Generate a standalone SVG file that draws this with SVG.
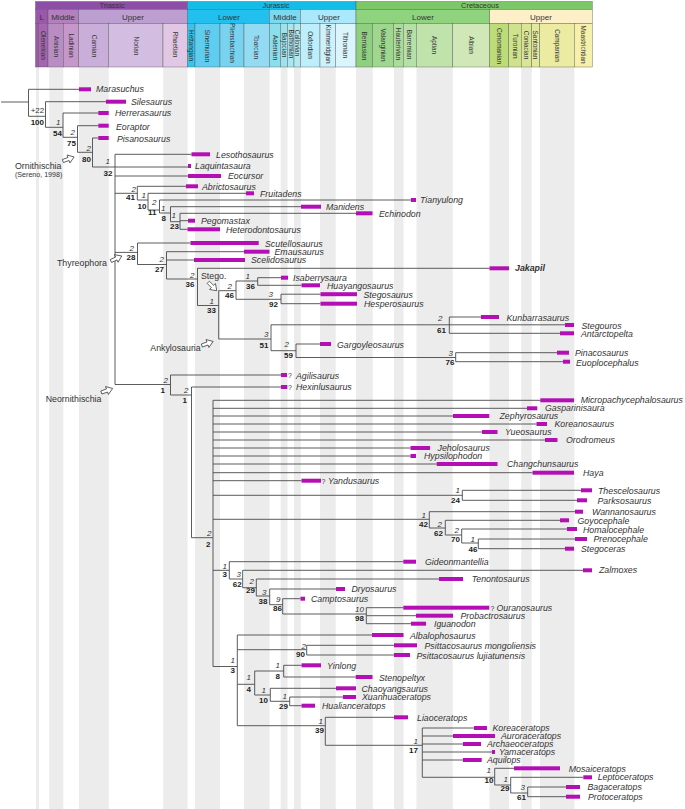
<svg xmlns="http://www.w3.org/2000/svg" xmlns:xlink="http://www.w3.org/1999/xlink" width="685" height="809" viewBox="0 0 685 809">
<style>
text{font-family:"Liberation Sans",Arial,sans-serif;fill:#333}
.t{font-size:8.8px;font-style:italic}
.b{fill:#b30fb5}
.u{font-size:8px;font-style:italic;text-anchor:end}
.d{font-size:8px;font-weight:bold;text-anchor:end;fill:#222}
.l{font-size:8.8px}
.q{font-size:7px}
.g{fill:#ececec}
.c{stroke:#555;stroke-width:.4}
.h1{font-size:7.4px;text-anchor:middle}
.h2{font-size:8px;text-anchor:middle}
.h3{font-size:6.4px;text-anchor:middle}
#conn{fill:none;stroke:#4a4a4a;stroke-width:.9}
.ar{fill:#fff;stroke:#333;stroke-width:.7}
</style>
<defs><polygon id="arrow" points="-6,-1.6 0,-1.6 0,-4.2 6,0 0,4.2 0,1.6 -6,1.6"/></defs>
<rect width="685" height="809" fill="#fff"/>
<g id="bands">
<rect class="g" x="36" y="67" width="3" height="742"/>
<rect class="g" x="49.3" y="67" width="14" height="742"/>
<rect class="g" x="79" y="67" width="29.7" height="742"/>
<rect class="g" x="163.3" y="67" width="24.2" height="742"/>
<rect class="g" x="195" y="67" width="25" height="742"/>
<rect class="g" x="244" y="67" width="25.5" height="742"/>
<rect class="g" x="280.7" y="67" width="6.8" height="742"/>
<rect class="g" x="294" y="67" width="6.8" height="742"/>
<rect class="g" x="320" y="67" width="15.7" height="742"/>
<rect class="g" x="356" y="67" width="16.7" height="742"/>
<rect class="g" x="394" y="67" width="9.5" height="742"/>
<rect class="g" x="416.5" y="67" width="36.2" height="742"/>
<rect class="g" x="489.5" y="67" width="19.5" height="742"/>
<rect class="g" x="521.3" y="67" width="10.4" height="742"/>
<rect class="g" x="540" y="67" width="34.3" height="742"/>
</g>
<g id="timescale">
<rect class="c" x="35.5" y="1.5" width="152" height="8" fill="#8c4fa5"/>
<rect class="c" x="187.5" y="1.5" width="168.5" height="8" fill="#14bde8"/>
<rect class="c" x="356" y="1.5" width="236.3" height="8" fill="#7cc768"/>
<rect class="c" x="35.5" y="9.5" width="12.5" height="14" fill="#9a58aa"/>
<rect class="c" x="48" y="9.5" width="30.7" height="14" fill="#b180bd"/>
<rect class="c" x="78.7" y="9.5" width="108.8" height="14" fill="#bc9fd0"/>
<rect class="c" x="187.5" y="9.5" width="82" height="14" fill="#22c0ee"/>
<rect class="c" x="269.5" y="9.5" width="31" height="14" fill="#7cd8ee"/>
<rect class="c" x="300.5" y="9.5" width="55.5" height="14" fill="#abe8fb"/>
<rect class="c" x="356" y="9.5" width="133.7" height="14" fill="#8fd37f"/>
<rect class="c" x="489.7" y="9.5" width="102.6" height="14" fill="#fdf0c8"/>
<rect class="c" x="35.5" y="23.5" width="3" height="43.5" fill="#9a58aa"/>
<rect class="c" x="38.5" y="23.5" width="9.5" height="43.5" fill="#a565b0"/>
<rect class="c" x="48" y="23.5" width="15.5" height="43.5" fill="#b98dc4"/>
<rect class="c" x="63.5" y="23.5" width="15.2" height="43.5" fill="#c597ca"/>
<rect class="c" x="78.7" y="23.5" width="29.8" height="43.5" fill="#c8aed9"/>
<rect class="c" x="108.5" y="23.5" width="54.5" height="43.5" fill="#d3bde1"/>
<rect class="c" x="163" y="23.5" width="24.5" height="43.5" fill="#e2c7e4"/>
<rect class="c" x="187.5" y="23.5" width="7.5" height="43.5" fill="#34c5ec"/>
<rect class="c" x="195" y="23.5" width="25" height="43.5" fill="#5fcdef"/>
<rect class="c" x="220" y="23.5" width="24" height="43.5" fill="#79d3f0"/>
<rect class="c" x="244" y="23.5" width="25.5" height="43.5" fill="#93dbf3"/>
<rect class="c" x="269.5" y="23.5" width="11" height="43.5" fill="#8bdeec"/>
<rect class="c" x="280.5" y="23.5" width="7" height="43.5" fill="#9ce3ee"/>
<rect class="c" x="287.5" y="23.5" width="6.5" height="43.5" fill="#a9e6ef"/>
<rect class="c" x="294" y="23.5" width="6.5" height="43.5" fill="#b5e9f0"/>
<rect class="c" x="300.5" y="23.5" width="19.5" height="43.5" fill="#bdeefc"/>
<rect class="c" x="320" y="23.5" width="15.5" height="43.5" fill="#cdf2fc"/>
<rect class="c" x="335.5" y="23.5" width="20.5" height="43.5" fill="#dbf5fd"/>
<rect class="c" x="356" y="23.5" width="16.5" height="43.5" fill="#8fcf80"/>
<rect class="c" x="372.5" y="23.5" width="21" height="43.5" fill="#9ed78e"/>
<rect class="c" x="393.5" y="23.5" width="9.8" height="43.5" fill="#aadc9a"/>
<rect class="c" x="403.3" y="23.5" width="13" height="43.5" fill="#b5e0a6"/>
<rect class="c" x="416.3" y="23.5" width="36.4" height="43.5" fill="#c0e3ac"/>
<rect class="c" x="452.7" y="23.5" width="37" height="43.5" fill="#d0e8b7"/>
<rect class="c" x="489.7" y="23.5" width="19" height="43.5" fill="#bcdc78"/>
<rect class="c" x="508.7" y="23.5" width="12.6" height="43.5" fill="#cfe28c"/>
<rect class="c" x="521.3" y="23.5" width="10.4" height="43.5" fill="#dae694"/>
<rect class="c" x="531.7" y="23.5" width="8" height="43.5" fill="#e2ea9c"/>
<rect class="c" x="539.7" y="23.5" width="34.6" height="43.5" fill="#ebeba2"/>
<rect class="c" x="574.3" y="23.5" width="18" height="43.5" fill="#f5f0aa"/>
<text class="h1" x="112" y="7.8">Triassic</text>
<text class="h1" x="276" y="7.8">Jurassic</text>
<text class="h1" x="480" y="7.8">Cretaceous</text>
<text class="h2" x="41.7" y="19.5">L</text>
<text class="h2" x="63" y="19.5">Middle</text>
<text class="h2" x="133" y="19.5">Upper</text>
<text class="h2" x="229" y="19.5">Lower</text>
<text class="h2" x="285" y="19.5">Middle</text>
<text class="h2" x="329" y="19.5">Upper</text>
<text class="h2" x="423" y="19.5">Lower</text>
<text class="h2" x="541" y="19.5">Upper</text>
<text class="h3" transform="translate(40.8,45.5) rotate(90)">Olenekian</text>
<text class="h3" transform="translate(53.5,46.5) rotate(90)">Anisian</text>
<text class="h3" transform="translate(69,45.5) rotate(90)">Ladinian</text>
<text class="h3" transform="translate(91.5,46) rotate(90)">Carnian</text>
<text class="h3" transform="translate(133.5,46) rotate(90)">Norian</text>
<text class="h3" transform="translate(173,44.5) rotate(90)">Rhaetian</text>
<text class="h3" transform="translate(189,45.5) rotate(90)">Hettangian</text>
<text class="h3" transform="translate(205,46) rotate(90)">Sinemurian</text>
<text class="h3" transform="translate(230,43) rotate(90)">Pliensbachian</text>
<text class="h3" transform="translate(254,47) rotate(90)">Toarcian</text>
<text class="h3" transform="translate(272.5,47.5) rotate(90)">Aalenian</text>
<text class="h3" transform="translate(281.8,45) rotate(90)">Bajocian</text>
<text class="h3" transform="translate(288.6,44) rotate(90)">Bathonian</text>
<text class="h3" transform="translate(295.2,43) rotate(90)">Callovian</text>
<text class="h3" transform="translate(308,45) rotate(90)">Oxfordian</text>
<text class="h3" transform="translate(325.5,44) rotate(90)">Kimmeridgian</text>
<text class="h3" transform="translate(343.3,45) rotate(90)">Tithonian</text>
<text class="h3" transform="translate(361.5,46) rotate(90)">Berriasian</text>
<text class="h3" transform="translate(380.5,45) rotate(90)">Valanginian</text>
<text class="h3" transform="translate(395.8,44) rotate(90)">Hauterivian</text>
<text class="h3" transform="translate(407,44.5) rotate(90)">Barremian</text>
<text class="h3" transform="translate(432,45) rotate(90)">Aptian</text>
<text class="h3" transform="translate(468.5,45) rotate(90)">Albian</text>
<text class="h3" transform="translate(496.5,46) rotate(90)">Cenomanian</text>
<text class="h3" transform="translate(512.5,46) rotate(90)">Turonian</text>
<text class="h3" transform="translate(523.8,45) rotate(90)">Coniacian</text>
<text class="h3" transform="translate(533.3,45) rotate(90)">Santonian</text>
<text class="h3" transform="translate(555,45.5) rotate(90)">Campanian</text>
<text class="h3" transform="translate(581,44.5) rotate(90)">Maastrichtian</text>
</g>
<g id="connectors"><path id="conn" d="M1 102H28.5M28.5 89.3V116.3M28.5 89.3H79M28.5 116.3H45.5M45.5 101.7V127.3M45.5 101.7H106M45.5 127.3H63M63 113V137.3M63 113H98.3M63 137.3H77.5M77.5 125.7V152.3M77.5 125.7H98.3M77.5 152.3H92.5M92.5 138V167M92.5 138H98.3M92.5 167H188M115 154.3V384.5M115 154.3H191.5M115 176H188M115 193.3H137.3M137.3 186.3V200M137.3 186.3H186M137.3 200H148M148 193.3V210M148 193.3H246M148 210H159.5M159.5 200V213M159.5 200H411M159.5 213H170.5M170.5 206.7V221.7M170.5 206.7H301M170.5 221.7H180M180 213.3V229.3M180 213.3H356M180 220.7H188M180 229.3H187.5M115 252.4H137.5M137.5 243V264.5M137.5 243H190.5M137.5 264.5H166.5M166.5 251.7V279M166.5 251.7H244M166.5 260H194M166.5 279H197.5M197.5 268V305.5M197.5 268.3H489.5M197.5 305.5H218.7M218.7 290.7V339M218.7 290.7H236M236 281V299.3M236 281H257.7M257.7 277.7V285.3M257.7 277.7H281M257.7 285.3H301.5M236 299.3H281M281 294.2V303.7M281 294.2H320.5M281 303.7H320.5M218.7 339H271M271 324.8V350.7M271 324.8H565M449.3 317V333.3M449.3 317H481M449.3 333.3H560M271 350.7H296M296 344V357.5M296 344H320M296 357.5H455.7M455.7 352.7V361.7M455.7 352.7H557M455.7 361.7H563M115 384.5H170.5M170.5 375V395M170.5 375H281M170.5 395H191.5M191.5 387V537.7M191.5 387H281M191.5 537.7H213M213 400.3V666.5M213 400.3H540.3M213 408.3H527M213 416H453M213 424H536.5M213 432H482M213 440H545M213 448H410.5M213 456H410.5M213 464H436.7M213 472.7H532.5M213 480.7H301.5M213 495.3H462.3M462.3 490.3V500.3M462.3 490.3H581M462.3 500.3H577M213 519.3H429.3M429.3 511.7V528M429.3 511.7H575M429.3 528H445.3M445.3 520.3V535M445.3 520.3H560M445.3 535H461.7M461.7 529V543M461.7 529H567M461.7 543H478.3M478.3 539V548.7M478.3 539H575M478.3 548.7H565M213 570.3H229.3M229.3 561.7V579M229.3 561.7H403.3M229.3 579H242.7M242.7 570.3V587.7M242.7 570.3H583M242.7 587.7H256.3M256.3 579V596M256.3 579H439M256.3 596H269.7M269.7 589V604.7M269.7 589H336M269.7 604.7H282.7M282.7 598.7V614M282.7 598.7H300.5M282.7 614H366.3M366.3 607.7V623.7M366.3 607.7H403.3M366.3 615.7H416M366.3 623.7H411M213 666.5H237.3M237.3 635V725.7M237.3 635H372M237.3 649.7H306.7M306.7 645.3V655M306.7 645.3H394M306.7 655H394M237.3 684.3H254.7M254.7 671V695M254.7 671H283.7M283.7 665.3V677M283.7 665.3H301.5M283.7 677H355.7M254.7 695H270.3M270.3 688.3V701.3M270.3 688.3H336M270.3 701.3H289.7M289.7 697V705.7M289.7 697H343M289.7 705.7H301.5M237.3 725.7H325.3M325.3 717.3V745.3M325.3 717.3H394M325.3 745.3H422.3M422.3 728V777.3M422.3 728H474M422.3 736H453M422.3 744H463M422.3 752H492M422.3 760H463M422.3 777.3H494.7M494.7 768.3V785M494.7 768.3H514M494.7 785H510.7M510.7 777.3V793M510.7 777.3H583M510.7 793H527.7M527.7 787V796.7M527.7 787H566M527.7 796.7H566"/></g>
<g id="support">
<text class="l" style="font-size:8px" x="30.7" y="112.7">+22</text><text class="d" x="44" y="125.3">100</text>
<text class="u" x="60.5" y="124.7">1</text><text class="d" x="62" y="136.3">54</text>
<text class="u" x="75" y="135">2</text><text class="d" x="76" y="146">75</text>
<text class="u" x="91" y="151">2</text><text class="d" x="91" y="162">80</text>
<text class="u" x="110" y="164">1</text><text class="d" x="112.5" y="176">32</text>
<text class="u" x="136" y="191.7">2</text><text class="d" x="135" y="200.3">41</text>
<text class="u" x="146" y="198">1</text><text class="d" x="146.5" y="209">10</text>
<text class="u" x="156.5" y="205">2</text><text class="d" x="156.5" y="215">11</text>
<text class="u" x="165.5" y="211">1</text><text class="d" x="166" y="220.7">8</text>
<text class="u" x="176" y="218">1</text><text class="d" x="179" y="229">23</text>
<text class="u" x="134" y="250.7">2</text><text class="d" x="135.5" y="260">28</text>
<text class="u" x="164" y="261.7">2</text><text class="d" x="164" y="271.7">27</text>
<text class="u" x="194.5" y="278">2</text><text class="d" x="194.5" y="286.7">36</text>
<text class="u" x="214" y="304">1</text><text class="d" x="216" y="312.7">33</text>
<text class="u" x="232" y="289">2</text><text class="d" x="234" y="298">46</text>
<text class="u" x="250" y="279">1</text><text class="d" x="255" y="289">36</text>
<text class="u" x="273" y="297.3">3</text><text class="d" x="278" y="307">92</text>
<text class="u" x="268.5" y="337">3</text><text class="d" x="268.5" y="348">51</text>
<text class="u" x="289" y="347.3">2</text><text class="d" x="293" y="358">59</text>
<text class="u" x="442.5" y="320.7">2</text><text class="d" x="446" y="333.3">61</text>
<text class="u" x="453" y="355.7">3</text><text class="d" x="454.5" y="365.3">76</text>
<text class="u" x="168" y="383">2</text><text class="d" x="165" y="392.7">1</text>
<text class="u" x="188.5" y="393.3">2</text><text class="d" x="187" y="403.3">1</text>
<text class="u" x="211.5" y="535.7">2</text><text class="d" x="210.5" y="546.7">2</text>
<text class="u" x="460" y="493.3">1</text><text class="d" x="460" y="503">24</text>
<text class="u" x="426" y="517.7">1</text><text class="d" x="428" y="526.7">42</text>
<text class="u" x="442" y="527">2</text><text class="d" x="443" y="535.7">62</text>
<text class="u" x="459" y="532.7">2</text><text class="d" x="460" y="542.3">70</text>
<text class="u" x="475" y="541.7">1</text><text class="d" x="477.5" y="551.7">46</text>
<text class="u" x="227" y="568.7">1</text><text class="d" x="227" y="577">3</text>
<text class="u" x="241" y="577.3">3</text><text class="d" x="241.7" y="586.7">62</text>
<text class="u" x="254" y="584">2</text><text class="d" x="255" y="593.3">29</text>
<text class="u" x="266.5" y="594.7">3</text><text class="d" x="267.5" y="604.3">38</text>
<text class="u" x="280.5" y="601.7">9</text><text class="d" x="282" y="610.7">86</text>
<text class="u" x="364" y="612.3">10</text><text class="d" x="364" y="620.7">98</text>
<text class="u" x="306" y="648.7">2</text><text class="d" x="305" y="657">90</text>
<text class="u" x="235" y="663.3">1</text><text class="d" x="235" y="673.3">3</text>
<text class="u" x="280" y="668.3">1</text><text class="d" x="280" y="678.7">8</text>
<text class="u" x="251" y="680">1</text><text class="d" x="251" y="692">4</text>
<text class="u" x="266" y="693.3">1</text><text class="d" x="268" y="702.7">10</text>
<text class="u" x="287" y="699.3">1</text><text class="d" x="288" y="709.3">29</text>
<text class="u" x="323" y="724">1</text><text class="d" x="324" y="733.3">39</text>
<text class="u" x="418" y="744">1</text><text class="d" x="418" y="752.7">17</text>
<text class="u" x="491" y="773">1</text><text class="d" x="493.5" y="783.3">10</text>
<text class="u" x="508" y="781.7">1</text><text class="d" x="509.5" y="791.3">29</text>
<text class="u" x="525" y="790.3">3</text><text class="d" x="526" y="800">61</text>
</g>
<g id="clades">
<text class="l" x="15" y="169">Ornithischia</text>
<text x="15" y="177.3" style="font-size:7.1px">(Sereno, 1998)</text>
<use href="#arrow" class="ar" transform="translate(68.5,159) rotate(-20)"/>
<text class="l" x="57" y="266">Thyreophora</text>
<use href="#arrow" class="ar" transform="translate(116.3,258.5) rotate(-25)"/>
<text class="l" x="201" y="279">Stego.</text>
<use href="#arrow" class="ar" transform="translate(212.5,286.5) rotate(45)"/>
<text class="l" x="150.3" y="350.7">Ankylosauria</text>
<use href="#arrow" class="ar" transform="translate(207.5,343.5) rotate(-20)"/>
<text class="l" x="45.7" y="402">Neornithischia</text>
<use href="#arrow" class="ar" transform="translate(107,390.5) rotate(-20)"/>
</g>
<g id="taxa">
<g id="t1"><rect class="b" x="79" y="87.3" width="12" height="4"/><text class="t" x="96" y="92">Marasuchus</text></g>
<g id="t2"><rect class="b" x="106" y="99.7" width="20" height="4"/><text class="t" x="131" y="105">Silesaurus</text></g>
<g id="t3"><rect class="b" x="98.3" y="111" width="10.4" height="4"/><text class="t" x="115" y="116">Herrerasaurus</text></g>
<g id="t4"><rect class="b" x="98.3" y="123.7" width="10.4" height="4"/><text class="t" x="116" y="129.5">Eoraptor</text></g>
<g id="t5"><rect class="b" x="98.3" y="136" width="10.4" height="4"/><text class="t" x="117" y="141.5">Pisanosaurus</text></g>
<g id="t6"><rect class="b" x="191.5" y="152.3" width="18.5" height="4"/><text class="t" x="216" y="157.5">Lesothosaurus</text></g>
<g id="t7"><rect class="b" x="188" y="164" width="3" height="4"/><text class="t" x="195" y="169">Laquintasaura</text></g>
<g id="t8"><rect class="b" x="188" y="174" width="33" height="4"/><text class="t" x="228" y="179">Eocursor</text></g>
<g id="t9"><rect class="b" x="186" y="184.3" width="12" height="4"/><text class="t" x="202" y="190">Abrictosaurus</text></g>
<g id="t10"><rect class="b" x="246" y="191.3" width="8" height="4"/><text class="t" x="260" y="196.5">Fruitadens</text></g>
<g id="t11"><rect class="b" x="411" y="198" width="5" height="4"/><text class="t" x="420" y="203">Tianyulong</text></g>
<g id="t12"><rect class="b" x="301" y="204.7" width="20" height="4"/><text class="t" x="326" y="209.5">Manidens</text></g>
<g id="t13"><rect class="b" x="356" y="211.3" width="16.5" height="4"/><text class="t" x="379" y="217">Echinodon</text></g>
<g id="t14"><rect class="b" x="188" y="218.7" width="7" height="4"/><text class="t" x="201" y="223.5">Pegomastax</text></g>
<g id="t15"><rect class="b" x="187.5" y="227.3" width="32.5" height="4"/><text class="t" x="226" y="232.5">Heterodontosaurus</text></g>
<g id="t16"><rect class="b" x="190.5" y="241" width="68.2" height="4"/><text class="t" x="265" y="246.5">Scutellosaurus</text></g>
<g id="t17"><rect class="b" x="244" y="249.7" width="25.5" height="4"/><text class="t" x="274.5" y="255">Emausaurus</text></g>
<g id="t18"><rect class="b" x="194" y="258" width="51" height="4"/><text class="t" x="251" y="263">Scelidosaurus</text></g>
<g id="t19"><rect class="b" x="489.5" y="266.3" width="19.5" height="4"/><text class="t" x="515" y="271" style="font-weight:bold">Jakapil</text></g>
<g id="t20"><rect class="b" x="281" y="275.7" width="7" height="4"/><text class="t" x="293" y="280.5">Isaberrysaura</text></g>
<g id="t21"><rect class="b" x="301.5" y="283.3" width="18.5" height="4"/><text class="t" x="327" y="289">Huayangosaurus</text></g>
<g id="t22"><rect class="b" x="320.5" y="292.2" width="36.5" height="4"/><text class="t" x="363.5" y="298">Stegosaurus</text></g>
<g id="t23"><rect class="b" x="320.5" y="301.7" width="36.5" height="4"/><text class="t" x="364" y="307">Hesperosaurus</text></g>
<g id="t24"><rect class="b" x="481" y="315" width="18" height="4"/><text class="t" x="506.5" y="320.5">Kunbarrasaurus</text></g>
<g id="t25"><rect class="b" x="565" y="323" width="9" height="4"/><text class="t" x="581.5" y="328.5">Stegouros</text></g>
<g id="t26"><rect class="b" x="560" y="331.3" width="14" height="4"/><text class="t" x="581" y="337">Antarctopelta</text></g>
<g id="t27"><rect class="b" x="320" y="342" width="11" height="4"/><text class="t" x="337" y="348">Gargoyleosaurus</text></g>
<g id="t28"><rect class="b" x="557" y="350.7" width="12" height="4"/><text class="t" x="575" y="356">Pinacosaurus</text></g>
<g id="t29"><rect class="b" x="563" y="359.7" width="7" height="4"/><text class="t" x="576" y="365.5">Euoplocephalus</text></g>
<g id="t30"><rect class="b" x="281" y="373" width="6" height="4"/><text class="q" x="288" y="378">?</text><text class="t" x="296" y="379">Agilisaurus</text></g>
<g id="t31"><rect class="b" x="281" y="385" width="6.3" height="4"/><text class="q" x="288" y="390">?</text><text class="t" x="296" y="390">Hexinlusaurus</text></g>
<g id="t32"><rect class="b" x="540.3" y="398.3" width="33.7" height="4"/><text class="t" x="580.7" y="403">Micropachycephalosaurus</text></g>
<g id="t33"><rect class="b" x="527" y="406.3" width="10.3" height="4"/><text class="t" x="545" y="411">Gasparinisaura</text></g>
<g id="t34"><rect class="b" x="453" y="414" width="36.3" height="4"/><text class="t" x="499.5" y="419">Zephyrosaurus</text></g>
<g id="t35"><rect class="b" x="536.5" y="422" width="10.5" height="4"/><text class="t" x="554.5" y="427">Koreanosaurus</text></g>
<g id="t36"><rect class="b" x="482" y="430" width="15.5" height="4"/><text class="t" x="505" y="435">Yueosaurus</text></g>
<g id="t37"><rect class="b" x="545" y="438" width="12.5" height="4"/><text class="t" x="566" y="443">Orodromeus</text></g>
<g id="t38"><rect class="b" x="410.5" y="446" width="19.5" height="4"/><text class="t" x="437.5" y="451">Jeholosaurus</text></g>
<g id="t39"><rect class="b" x="410.5" y="454" width="5.5" height="4"/><text class="t" x="424" y="459">Hypsilophodon</text></g>
<g id="t40"><rect class="b" x="436.7" y="462" width="60.8" height="4"/><text class="t" x="507" y="467">Changchunsaurus</text></g>
<g id="t41"><rect class="b" x="532.5" y="470.7" width="41.5" height="4"/><text class="t" x="583" y="475.5">Haya</text></g>
<g id="t42"><rect class="b" x="301.5" y="478.7" width="19.5" height="4"/><text class="q" x="321.5" y="483.5">?</text><text class="t" x="328" y="483.5">Yandusaurus</text></g>
<g id="t43"><rect class="b" x="581" y="488.3" width="11" height="4"/><text class="t" x="598" y="493.5">Thescelosaurus</text></g>
<g id="t44"><rect class="b" x="577" y="498.3" width="10" height="4"/><text class="t" x="597.5" y="503.5">Parksosaurus</text></g>
<g id="t45"><rect class="b" x="575" y="509.7" width="8" height="4"/><text class="t" x="592" y="514.5">Wannanosaurus</text></g>
<g id="t46"><rect class="b" x="560" y="518.3" width="9" height="4"/><text class="t" x="577.5" y="523.5">Goyocephale</text></g>
<g id="t47"><rect class="b" x="567" y="527" width="10" height="4"/><text class="t" x="583" y="532.5">Homalocephale</text></g>
<g id="t48"><rect class="b" x="575" y="537" width="12" height="4"/><text class="t" x="593.5" y="542">Prenocephale</text></g>
<g id="t49"><rect class="b" x="565" y="546.7" width="9" height="4"/><text class="t" x="581" y="552">Stegoceras</text></g>
<g id="t50"><rect class="b" x="403.3" y="559.7" width="12.7" height="4"/><text class="t" x="425" y="564.5">Gideonmantellia</text></g>
<g id="t51"><rect class="b" x="583" y="568.3" width="9" height="4"/><text class="t" x="599" y="573">Zalmoxes</text></g>
<g id="t52"><rect class="b" x="439" y="577" width="24" height="4"/><text class="t" x="471.7" y="581.5">Tenontosaurus</text></g>
<g id="t53"><rect class="b" x="336" y="587" width="9" height="4"/><text class="t" x="351.5" y="592">Dryosaurus</text></g>
<g id="t54"><rect class="b" x="300.5" y="596.7" width="4.5" height="4"/><text class="t" x="311" y="601.5">Camptosaurus</text></g>
<g id="t55"><rect class="b" x="403.3" y="605.7" width="86" height="4"/><text class="q" x="490.5" y="610.5">?</text><text class="t" x="496.5" y="611">Ouranosaurus</text></g>
<g id="t56"><rect class="b" x="416" y="613.7" width="37" height="4"/><text class="t" x="460.5" y="619">Probactrosaurus</text></g>
<g id="t57"><rect class="b" x="411" y="621.7" width="15" height="4"/><text class="t" x="434" y="627">Iguanodon</text></g>
<g id="t58"><rect class="b" x="372" y="633" width="31.5" height="4"/><text class="t" x="410" y="639">Albalophosaurus</text></g>
<g id="t59"><rect class="b" x="394" y="643.3" width="23" height="4"/><text class="t" x="424.5" y="649">Psittacosaurus mongoliensis</text></g>
<g id="t60"><rect class="b" x="394" y="653" width="16" height="4"/><text class="t" x="416.5" y="659">Psittacosaurus lujiatunensis</text></g>
<g id="t61"><rect class="b" x="301.5" y="663.3" width="19.5" height="4"/><text class="t" x="327" y="669">Yinlong</text></g>
<g id="t62"><rect class="b" x="355.7" y="675" width="16.8" height="4"/><text class="t" x="379" y="680.5">Stenopeltyx</text></g>
<g id="t63"><rect class="b" x="336" y="686.3" width="20" height="4"/><text class="t" x="361.5" y="692">Chaoyangsaurus</text></g>
<g id="t64"><rect class="b" x="343" y="695" width="13" height="4"/><text class="t" x="362" y="700">Xuanhuaceratops</text></g>
<g id="t65"><rect class="b" x="301.5" y="703.7" width="13.5" height="4"/><text class="t" x="322" y="709">Hualianceratops</text></g>
<g id="t66"><rect class="b" x="394" y="715.3" width="14" height="4"/><text class="t" x="417" y="720.5">Liaoceratops</text></g>
<g id="t67"><rect class="b" x="474" y="726" width="13" height="4"/><text class="t" x="492.5" y="731">Koreaceratops</text></g>
<g id="t68"><rect class="b" x="453" y="734" width="42" height="4"/><text class="t" x="501" y="739">Auroraceratops</text></g>
<g id="t69"><rect class="b" x="463" y="742" width="18" height="4"/><text class="t" x="487" y="746.5">Archaeoceratops</text></g>
<g id="t70"><rect class="b" x="492" y="750" width="3" height="4"/><text class="t" x="499" y="754.5">Yamaceratops</text></g>
<g id="t71"><rect class="b" x="463" y="758" width="18.7" height="4"/><text class="t" x="487" y="762.5">Aquilops</text></g>
<g id="t72"><rect class="b" x="514" y="766.3" width="46" height="4"/><text class="t" x="568.7" y="771.5">Mosaiceratops</text></g>
<g id="t73"><rect class="b" x="583.3" y="775.3" width="8.7" height="4"/><text class="t" x="597.7" y="780">Leptoceratops</text></g>
<g id="t74"><rect class="b" x="566" y="785" width="14" height="4"/><text class="t" x="587.5" y="790">Bagaceratops</text></g>
<g id="t75"><rect class="b" x="566" y="794.7" width="14" height="4"/><text class="t" x="588" y="800">Protoceratops</text></g>
</g>
</svg>
